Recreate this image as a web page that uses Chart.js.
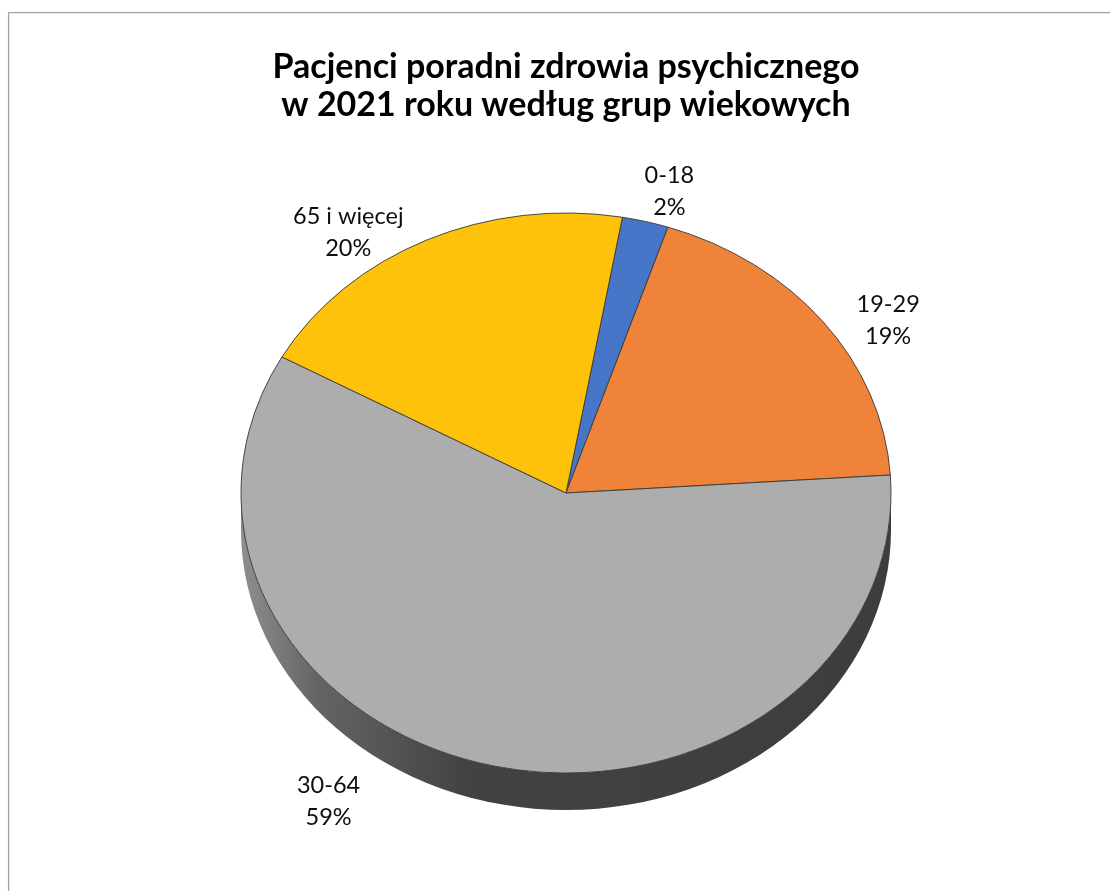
<!DOCTYPE html>
<html>
<head>
<meta charset="utf-8">
<script src="https://cdn.jsdelivr.net/npm/chart.js@4.4.1/dist/chart.umd.min.js"></script>
<style>
html,body{margin:0;padding:0;background:#ffffff;overflow:hidden}
canvas{display:block}
</style>
</head>
<body>
<canvas id="c" width="1110" height="891"></canvas>
<script>
// ---- data ----
const titleLines = ['Pacjenci poradni zdrowia psychicznego', 'w 2021 roku według grup wiekowych'];
const categories = ['0-18', '19-29', '30-64', '65 i więcej'];
const shares = [2.3, 18.9, 59.1, 19.7];
const sliceColors = ['#4775C7', '#EF833A', '#ADADAD', '#FFC20A'];

// ---- style / layout ----
const tilt = 280 / 325;      // vertical squash of the pie face
const depth = 37;            // thickness of the pie side
const labelOffsets = [[24, -30], [65, -1], [-166, 35], [-78, -8]];

function shade(hex, f) {
  const n = parseInt(hex.slice(1), 16);
  const r = Math.round(((n >> 16) & 255) * f), g = Math.round(((n >> 8) & 255) * f), b = Math.round((n & 255) * f);
  return 'rgb(' + r + ',' + g + ',' + b + ')';
}

const pie3d = {
  id: 'pie3d',
  beforeDraw(chart) {
    const ctx = chart.ctx;
    ctx.save();
    ctx.strokeStyle = '#a3a3a3';
    ctx.lineWidth = 1.3;
    ctx.strokeRect(8.6, 12.6, 1300, 1000);
    ctx.restore();
  },
  beforeDatasetsDraw(chart) {
    const ctx = chart.ctx;
    const meta = chart.getDatasetMeta(0);
    const a0 = meta.data[0];
    const cx = a0.x, cy = a0.y, rx = a0.outerRadius, ry = rx * tilt;
    // side walls (front half only)
    meta.data.forEach((arc, i) => {
      const s0 = arc.startAngle, e0 = arc.endAngle;
      [-2 * Math.PI, 0, 2 * Math.PI].forEach(base => {
        const s = Math.max(s0, base), e = Math.min(e0, base + Math.PI);
        if (e > s) {
          const g = ctx.createLinearGradient(cx - rx, 0, cx + rx, 0);
          g.addColorStop(0, shade(sliceColors[i], 0.82));
          g.addColorStop(0.12, shade(sliceColors[i], 0.58));
          g.addColorStop(0.35, shade(sliceColors[i], 0.38));
          g.addColorStop(1, shade(sliceColors[i], 0.35));
          ctx.save();
          ctx.beginPath();
          ctx.ellipse(cx, cy, rx, ry, 0, s - base, e - base, false);
          ctx.ellipse(cx, cy + depth, rx, ry, 0, e - base, s - base, true);
          ctx.closePath();
          ctx.fillStyle = g;
          ctx.fill();
          ctx.restore();
        }
      });
    });
    ctx.save();
    ctx.translate(cx, cy);
    ctx.scale(1, tilt);
    ctx.translate(-cx, -cy);
  },
  afterDatasetsDraw(chart) {
    const ctx = chart.ctx;
    ctx.restore();
    const meta = chart.getDatasetMeta(0);
    const total = shares.reduce((a, b) => a + b, 0);
    ctx.save();
    ctx.font = '23.5px Lato';
    ctx.fillStyle = '#0d0d0d';
    ctx.textAlign = 'center';
    ctx.textBaseline = 'middle';
    meta.data.forEach((arc, i) => {
      const mid = (arc.startAngle + arc.endAngle) / 2;
      const rx = arc.outerRadius, ry = rx * tilt;
      const x = arc.x + rx * Math.cos(mid) + labelOffsets[i][0];
      const y = arc.y + ry * Math.sin(mid) + labelOffsets[i][1];
      ctx.fillText(categories[i], x, y - 16);
      ctx.fillText(Math.round(shares[i] / total * 100) + '%', x, y + 16);
    });
    ctx.restore();
  }
};

function build() {
  new Chart(document.getElementById('c'), {
    type: 'pie',
    data: {
      labels: categories,
      datasets: [{
        data: shares,
        backgroundColor: sliceColors,
        borderColor: '#3a3a3a',
        borderWidth: 1,
        radius: 325,
        clip: false
      }]
    },
    options: {
      responsive: false,
      devicePixelRatio: 1,
      animation: false,
      rotation: 10,
      layout: { padding: { left: 22, right: 0, top: 0, bottom: 29 } },
      plugins: {
        legend: { display: false },
        tooltip: { enabled: false },
        title: {
          display: true,
          text: titleLines,
          color: '#000000',
          font: { family: 'Lato', size: 34, weight: 'bold', lineHeight: 38 / 34 },
          padding: { top: 48, bottom: 0 }
        }
      }
    },
    plugins: [pie3d]
  });
}
if (document.fonts && document.fonts.load) {
  Promise.all([document.fonts.load('bold 34px Lato'), document.fonts.load('23.5px Lato')]).then(build, build);
} else { build(); }
</script>
</body>
</html>
